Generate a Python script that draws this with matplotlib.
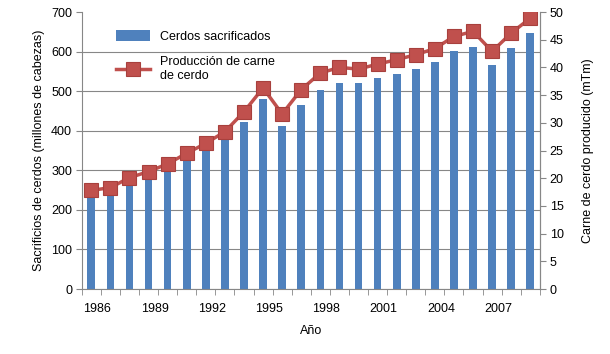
import numpy as np
import matplotlib
matplotlib.use("Agg")
import matplotlib.pyplot as plt
from matplotlib.transforms import ScaledTranslation

plt.rcParams['font.family'] = ['Liberation Sans', 'DejaVu Sans']
plt.rcParams['font.size'] = 9

# datos
anios = list(range(1986, 2010))
cerdos = [235, 242, 269, 280, 301, 327, 352, 377, 421, 481, 413, 465,
          502, 520, 520, 534, 543, 557, 574, 602, 612, 566, 610, 646]
carne = [17.8, 18.3, 20.1, 21.2, 22.6, 24.5, 26.3, 28.4, 32.0, 36.3, 31.6, 36.0,
         39.0, 40.0, 39.7, 40.6, 41.4, 42.3, 43.4, 45.6, 46.5, 42.9, 46.2, 48.9]
etiquetas_x = [str(a) for a in anios[::3]]

azul = '#4F81BD'
rojo = '#C0504D'
gris = '#878787'

fig = plt.figure(figsize=(6.1, 3.54), dpi=100)
ax = fig.add_axes([0.134, 0.1836, 0.751, 0.7824])
x = np.arange(len(anios))

barras = ax.bar(x, cerdos, width=0.4, color=azul, zorder=2, label='Cerdos sacrificados')
ax.set_ylim(0, 700)
ax.set_yticks(range(0, 701, 100))
ax.set_xlim(-0.5, len(anios) - 0.5)
ax.set_xticks(x[::3])
ax.set_xticklabels(etiquetas_x)
ax.set_xticks(np.arange(-0.5, len(anios), 1), minor=True)
ax.tick_params(axis='x', which='major', length=0, pad=10)
ax.tick_params(axis='x', which='minor', length=4, color=gris, direction='out')
ax.tick_params(axis='y', length=4, color=gris, direction='out', pad=3)
for lab in ax.get_xticklabels():
    lab.set_transform(lab.get_transform() + ScaledTranslation(6 / 100, 0, fig.dpi_scale_trans))
ax.grid(axis='y', color=gris, linewidth=0.8, zorder=0)
ax.get_ygridlines()[-1].set_visible(False)
ax.set_axisbelow(True)
ax.spines['top'].set_visible(False)
for s in ['left', 'right', 'bottom']:
    ax.spines[s].set_color(gris)
    ax.spines[s].set_linewidth(0.8)
ax.set_ylabel('Sacrificios de cerdos (millones de cabezas)')
ax.set_xlabel('Año', labelpad=7)

ax2 = ax.twinx()
linea, = ax2.plot(x, carne, color=rojo, linewidth=2.5, marker='s', markersize=10,
                  markerfacecolor=rojo, markeredgecolor='#A8403D', markeredgewidth=0.8,
                  zorder=3, label='Producción de carne\nde cerdo')
ax2.set_ylim(0, 50)
ax2.set_yticks(range(0, 51, 5))
ax2.tick_params(axis='y', length=4, color=gris, direction='out', pad=3)
for s in ['top', 'left', 'bottom']:
    ax2.spines[s].set_visible(False)
ax2.spines['right'].set_color(gris)
ax2.spines['right'].set_linewidth(0.8)
ax2.set_ylabel('Carne de cerdo producido (mTm)', labelpad=13)

ax2.legend([barras, linea], ['Cerdos sacrificados', 'Producción de carne\nde cerdo'],
           loc='upper left', bbox_to_anchor=(0.05, 0.975), frameon=False,
           handlelength=2.7, handleheight=0.9, handletextpad=0.8,
           labelspacing=1.1, fontsize=9)

fig.savefig('out.png', dpi=100)
